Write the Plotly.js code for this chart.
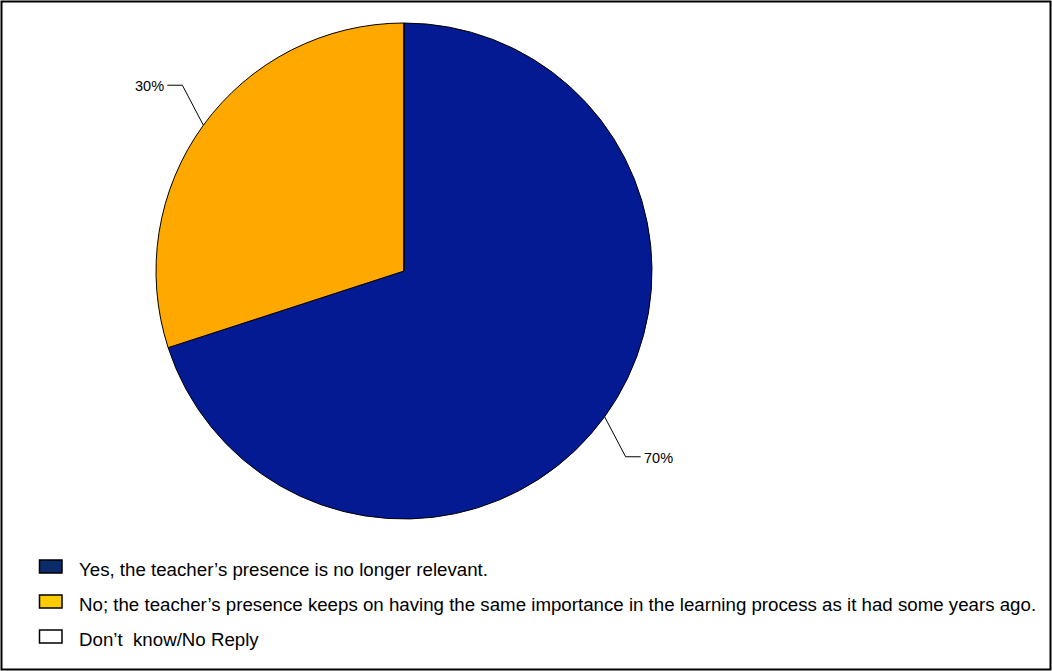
<!DOCTYPE html>
<html>
<head>
<meta charset="utf-8">
<script src="https://cdn.plot.ly/plotly-3.0.1.min.js"></script>
<style>html,body{margin:0;padding:0;background:#fff;}#chart{width:1052px;height:671px;}</style>
</head>
<body>
<div id="chart"></div>
<script>
// ---- data ----
const categories = [
  "Yes, the teacher\u2019s presence is no longer relevant.",
  "No; the teacher\u2019s presence keeps on having the same importance in the learning process as it had some years ago.",
  "Don\u2019t  know/No Reply"
];
const values = [70, 30, 0];
const pieColors = ["#041a93", "#ffa800", "#ffffff"];
const legendColors = ["#0b2b6b", "#ffcc00", "#ffffff"];

// ---- geometry (pixels) ----
const W = 1052, H = 671;
const cx = 404, cy = 271, r = 248;
const px = x => x / W;
const py = y => 1 - y / H;
const FONT = "Liberation Sans, Arial, sans-serif";

const data = [{
  type: "pie",
  labels: categories,
  values: values,
  sort: false,
  direction: "clockwise",
  rotation: 0,
  textinfo: "none",
  hoverinfo: "label+percent",
  showlegend: false,
  marker: {colors: pieColors, line: {color: "#000000", width: 1}},
  domain: {x: [px(cx - r), px(cx + r)], y: [py(cy + r), py(cy - r)]}
}];

const shapes = [];
const annotations = [];

// outer frame
shapes.push({type: "rect", xref: "paper", yref: "paper",
  x0: px(1.5), x1: px(1050.5), y0: py(669.5), y1: py(1.5),
  line: {color: "#000", width: 2}});

// leader lines + percentage labels computed from the values
const total = values.reduce((a, b) => a + b, 0);
let cum = 0;
values.forEach((v, i) => {
  const start = cum;
  cum += v;
  if (v <= 0) return;
  const mid = (start + v / 2) / total * 2 * Math.PI; // clockwise from top
  const ex = cx + r * Math.sin(mid), ey = cy - r * Math.cos(mid);
  const sx = Math.sin(mid) >= 0 ? 1 : -1;
  const sy = -Math.cos(mid) >= 0 ? 1 : -1;
  const bx = ex + sx * 21, by = ey + sy * 40;
  const hx = bx + sx * 15;
  shapes.push({type: "path", xref: "paper", yref: "paper",
    path: `M ${px(ex)} ${py(ey)} L ${px(bx)} ${py(by)} L ${px(hx)} ${py(by)}`,
    line: {color: "#000", width: 1}});
  annotations.push({xref: "paper", yref: "paper", x: px(hx + sx * 1), y: py(by + 1),
    xanchor: sx > 0 ? "left" : "right", yanchor: "middle", showarrow: false,
    text: Math.round(v / total * 100) + "%",
    font: {family: FONT, size: 14.5, color: "#000"}});
});

// legend (custom, matching the reference swatches)
categories.forEach((c, i) => {
  const yc = 566 + i * 35;
  shapes.push({type: "rect", xref: "paper", yref: "paper",
    x0: px(39.5), x1: px(62), y0: py(yc + 7), y1: py(yc - 6),
    fillcolor: legendColors[i], line: {color: "#000", width: 1.5}});
  annotations.push({xref: "paper", yref: "paper", x: px(76.5), y: py(yc + 3),
    xanchor: "left", yanchor: "middle", showarrow: false, text: c,
    font: {family: FONT, size: 18.7, color: "#000"}});
});

const layout = {
  width: W, height: H,
  margin: {l: 0, r: 0, t: 0, b: 0},
  paper_bgcolor: "#ffffff",
  plot_bgcolor: "#ffffff",
  showlegend: false,
  shapes: shapes,
  annotations: annotations
};

Plotly.newPlot("chart", data, layout, {displayModeBar: false, staticPlot: true});
</script>
</body>
</html>
